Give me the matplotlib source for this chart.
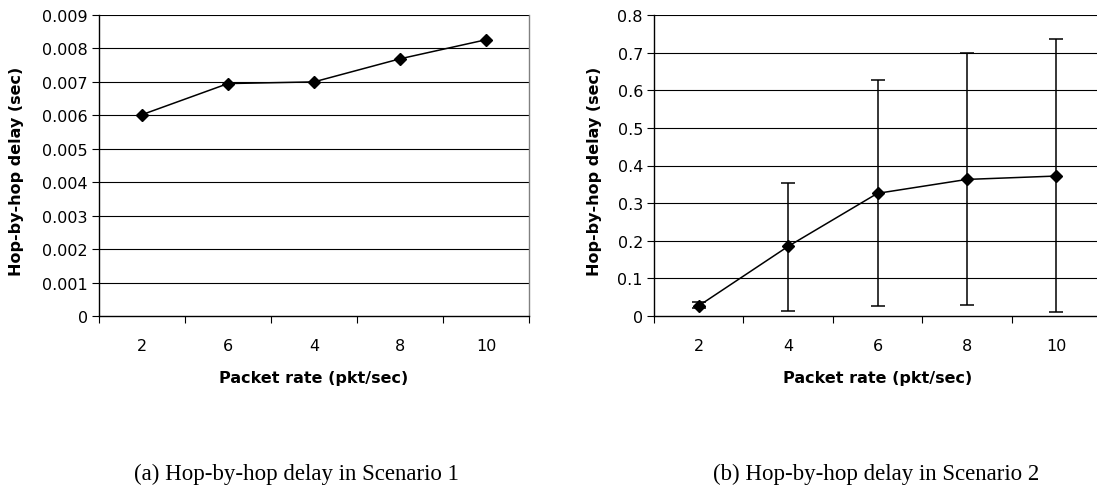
import matplotlib
matplotlib.use("Agg")
import matplotlib.pyplot as plt
import numpy as np

# Scenario 1: packet-rate categories (in the order they were run) and mean delay
rates_s1 = ["2", "6", "4", "8", "10"]
delay_s1 = [0.00602, 0.00695, 0.00700, 0.00769, 0.00826]

# Scenario 2: mean delay with lower / upper bounds of the spread
rates_s2 = ["2", "4", "6", "8", "10"]
delay_s2 = [0.027, 0.185, 0.326, 0.363, 0.372]
low_s2 = [0.020, 0.014, 0.027, 0.030, 0.010]
high_s2 = [0.036, 0.353, 0.628, 0.699, 0.737]

yticks_s1 = [0, 0.001, 0.002, 0.003, 0.004, 0.005, 0.006, 0.007, 0.008, 0.009]
ytick_labels_s1 = ["0", "0.001", "0.002", "0.003", "0.004", "0.005", "0.006",
                   "0.007", "0.008", "0.009"]
yticks_s2 = [0, 0.1, 0.2, 0.3, 0.4, 0.5, 0.6, 0.7, 0.8]
ytick_labels_s2 = ["0", "0.1", "0.2", "0.3", "0.4", "0.5", "0.6", "0.7", "0.8"]

xlabel = "Packet rate (pkt/sec)"
ylabel = "Hop-by-hop delay (sec)"
caption_a = "(a) Hop-by-hop delay in Scenario 1"
caption_b = "(b) Hop-by-hop delay in Scenario 2"

plt.rcParams["font.family"] = ["DejaVu Sans"]

W, H = 1097, 489
fig = plt.figure(figsize=(W / 100, H / 100), dpi=100)


def px_axes(x0, y0, x1, y1):
    return fig.add_axes([x0 / W, 1 - y1 / H, (x1 - x0) / W, (y1 - y0) / H])


def style(ax, cats, yticks, ylabels, ymax, ylab_x):
    n = len(cats)
    x = np.arange(n)
    ax.set_xlim(-0.5, n - 0.5)
    ax.set_ylim(0, ymax)
    ax.set_xticks(x)
    ax.set_xticklabels(cats, fontsize=11.5)
    ax.tick_params(axis="x", which="major", length=0, pad=16)
    ax.set_xticks(np.arange(n + 1) - 0.5, minor=True)
    ax.tick_params(axis="x", which="minor", length=5, width=0.8, direction="out")
    ax.set_yticks(yticks)
    ax.set_yticklabels(ylabels, fontsize=11.5)
    ax.tick_params(axis="y", length=5, width=0.8, direction="out", pad=3)
    for t in yticks:
        if t > 0:
            ax.axhline(t, color="black", lw=0.8, zorder=1)
    for side in ("left", "bottom"):
        ax.spines[side].set_color("black")
        ax.spines[side].set_linewidth(1.0)
    ax.spines["top"].set_visible(False)
    ax.spines["right"].set_color("#808080")
    ax.spines["right"].set_linewidth(1.0)
    ax.set_xlabel(xlabel, fontsize=11.5, fontweight="bold", va="center")
    ax.xaxis.set_label_coords(0.5, -(379 - 317) / 301)
    ax.set_ylabel(ylabel, fontsize=11.5, fontweight="bold", va="center")
    ax.yaxis.set_label_coords(ylab_x, 0.5 + (166.5 - 171) / 301)
    return x


ax1 = px_axes(99, 16, 529, 317)
x1 = style(ax1, rates_s1, yticks_s1, ytick_labels_s1, 0.009, (17 - 99) / 430)
ax1.plot(x1, delay_s1, color="black", lw=1.1, marker="D", markersize=6, zorder=3)

ax2 = px_axes(654, 16, 1101, 317)
x2 = style(ax2, rates_s2, yticks_s2, ytick_labels_s2, 0.8, (594 - 654) / 447)
d2 = np.array(delay_s2)
yerr = np.vstack([d2 - np.array(low_s2), np.array(high_s2) - d2])
ax2.errorbar(x2, d2, yerr=yerr, color="black", lw=1.1, marker="D", markersize=6,
             ecolor="black", elinewidth=1.1, capsize=5, capthick=1.1, zorder=3)

fig.text(296 / W, 1 - 474 / H, caption_a, ha="center", va="center",
         fontsize=16.5, family=["Liberation Serif", "DejaVu Serif"])
fig.text(876 / W, 1 - 474 / H, caption_b, ha="center", va="center",
         fontsize=16.5, family=["Liberation Serif", "DejaVu Serif"])

fig.savefig("out.png", dpi=100, facecolor="white")
